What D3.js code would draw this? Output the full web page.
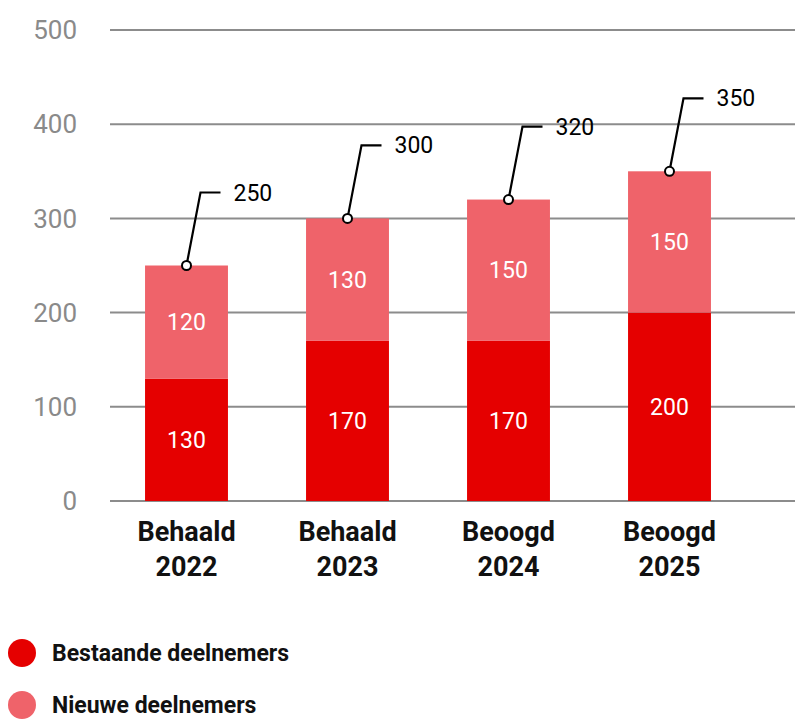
<!DOCTYPE html>
<html>
<head>
<meta charset="utf-8">
<script src="https://cdn.jsdelivr.net/npm/d3@7"></script>
<style>
  body { margin: 0; background: #fff; }
  svg { display: block; font-family: Roboto, sans-serif; }
</style>
</head>
<body>
<div id="chart"></div>
<script>
// data
const labelTop = ["Behaald", "Behaald", "Beoogd", "Beoogd"];
const years = ["2022", "2023", "2024", "2025"];
const bestaande = [130, 170, 170, 200];
const nieuwe = [120, 130, 150, 150];
const totals = [250, 300, 320, 350];
const yTicks = [0, 100, 200, 300, 400, 500];

const seriesNames = ["Bestaande deelnemers", "Nieuwe deelnemers"];
const colors = ["#e50000", "#ef636a"];

const width = 795, height = 720;

const svg = d3.select("#chart").append("svg")
  .attr("width", width)
  .attr("height", height);

var x = d3.scaleBand()
  .domain(years)
  .range([106, 750])
  .paddingInner(0.485)
  .paddingOuter(0.2425);

var y = d3.scaleLinear()
  .domain([0, 500])
  .range([501, 30]);

// gridlines + y labels
svg.append("g")
  .selectAll("line")
  .data(yTicks)
  .enter()
  .append("line")
  .attr("x1", 110)
  .attr("x2", width)
  .attr("y1", d => y(d))
  .attr("y2", d => y(d))
  .attr("stroke", "#8c8c8c")
  .attr("stroke-width", 2);

svg.append("g")
  .selectAll("text")
  .data(yTicks)
  .enter()
  .append("text")
  .attr("x", 77)
  .attr("y", d => y(d))
  .attr("dy", "0.35em")
  .attr("text-anchor", "end")
  .attr("fill", "#8a8a8a")
  .style("font-size", "26px")
  .text(d => d);

// stacked bars
const rows = years.map((yr, i) => ({ yr: yr, a: bestaande[i], b: nieuwe[i], total: totals[i], top: labelTop[i] }));

const bars = svg.append("g");
bars.selectAll("rect.bestaande")
  .data(rows)
  .enter()
  .append("rect")
  .attr("class", "bestaande")
  .attr("x", d => x(d.yr))
  .attr("width", x.bandwidth())
  .attr("y", d => y(d.a))
  .attr("height", d => y(0) - y(d.a))
  .attr("fill", colors[0]);

bars.selectAll("rect.nieuwe")
  .data(rows)
  .enter()
  .append("rect")
  .attr("class", "nieuwe")
  .attr("x", d => x(d.yr))
  .attr("width", x.bandwidth())
  .attr("y", d => y(d.a + d.b))
  .attr("height", d => y(d.a) - y(d.a + d.b))
  .attr("fill", colors[1]);

// values inside the bars
bars.selectAll("text.va")
  .data(rows)
  .enter()
  .append("text")
  .attr("class", "va")
  .attr("x", d => x(d.yr) + x.bandwidth() / 2)
  .attr("y", d => y(d.a / 2))
  .attr("dy", "0.35em")
  .attr("text-anchor", "middle")
  .attr("fill", "#fff")
  .style("font-size", "23px")
  .text(d => d.a);

bars.selectAll("text.vb")
  .data(rows)
  .enter()
  .append("text")
  .attr("class", "vb")
  .attr("x", d => x(d.yr) + x.bandwidth() / 2)
  .attr("y", d => y(d.a + d.b / 2))
  .attr("dy", "0.35em")
  .attr("text-anchor", "middle")
  .attr("fill", "#fff")
  .style("font-size", "23px")
  .text(d => d.b);

// total callouts
const callout = svg.append("g");
callout.selectAll("path")
  .data(rows)
  .enter()
  .append("path")
  .attr("d", function(d) {
    var cx = x(d.yr) + x.bandwidth() / 2, cy = y(d.total);
    return "M" + cx + "," + cy + " L" + (cx + 14) + "," + (cy - 73) + " H" + (cx + 34);
  })
  .attr("fill", "none")
  .attr("stroke", "#000")
  .attr("stroke-width", 2.2);

callout.selectAll("circle")
  .data(rows)
  .enter()
  .append("circle")
  .attr("cx", d => x(d.yr) + x.bandwidth() / 2)
  .attr("cy", d => y(d.total))
  .attr("r", 4.5)
  .attr("fill", "#fff")
  .attr("stroke", "#000")
  .attr("stroke-width", 2);

callout.selectAll("text")
  .data(rows)
  .enter()
  .append("text")
  .attr("x", d => x(d.yr) + x.bandwidth() / 2 + 47)
  .attr("y", d => y(d.total) - 73)
  .attr("dy", "0.35em")
  .attr("fill", "#000")
  .style("font-size", "23px")
  .text(d => d.total);

// x labels
const xl = svg.append("g")
  .selectAll("text")
  .data(rows)
  .enter()
  .append("text")
  .attr("text-anchor", "middle")
  .attr("fill", "#111")
  .style("font-size", "27px")
  .style("font-weight", "bold");
xl.append("tspan")
  .attr("x", d => x(d.yr) + x.bandwidth() / 2)
  .attr("y", 541)
  .text(d => d.top);
xl.append("tspan")
  .attr("x", d => x(d.yr) + x.bandwidth() / 2)
  .attr("y", 576)
  .text(d => d.yr);

// legend
const legend = svg.append("g")
  .selectAll("g")
  .data(seriesNames)
  .enter()
  .append("g")
  .attr("transform", (d, i) => "translate(0," + (653 + i * 52) + ")");
legend.append("circle")
  .attr("cx", 22)
  .attr("cy", 0)
  .attr("r", 14)
  .attr("fill", (d, i) => colors[i]);
legend.append("text")
  .attr("x", 52)
  .attr("dy", "0.35em")
  .attr("fill", "#111")
  .style("font-size", "23px")
  .style("font-weight", "bold")
  .text(d => d);
</script>
</body>
</html>
